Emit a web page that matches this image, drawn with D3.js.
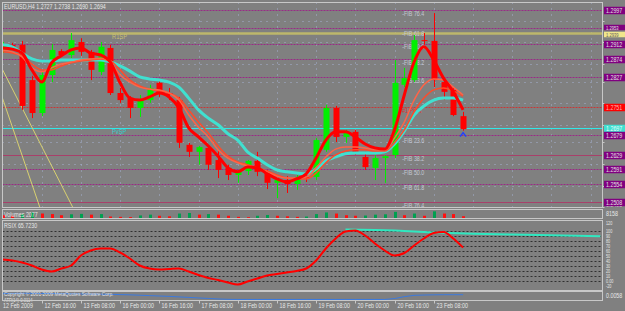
<!DOCTYPE html>
<html>
<head>
<meta charset="utf-8">
<script src="https://cdn.jsdelivr.net/npm/d3@7"></script>
<style>
body { margin: 0; background: #808080; }
svg { display: block; font-family: "Liberation Sans", Arial, sans-serif; }
</style>
</head>
<body>
<svg id="chart" width="625" height="311"></svg>
<script>
// EURUSD H4, 48 bars (12 Feb 2009 00:00 .. 23 Feb 2009 20:00)
var open  = [1.2896,1.2909,1.2909,1.2819,1.2735,1.2832,1.2893,1.2883,1.2916,1.2891,1.2840,1.2901,1.2786,1.2773,1.2748,1.2768,
             1.2812,1.2786,1.2768,1.2654,1.2636,1.2646,1.2615,1.2595,1.2577,1.2587,1.2613,1.2585,1.2557,1.2564,1.2554,1.2572,
             1.2572,1.2641,1.2748,1.2674,1.2687,1.2623,1.2595,1.2620,1.2628,1.2807,1.2819,1.2921,1.2919,1.2814,1.2794,1.2727];
var high  = [1.2916,1.2914,1.2919,1.2830,1.2840,1.2911,1.2898,1.2939,1.2926,1.2896,1.2916,1.2909,1.2799,1.2778,1.2781,1.2807,
             1.2819,1.2799,1.2776,1.2659,1.2651,1.2651,1.2641,1.2603,1.2590,1.2615,1.2636,1.2590,1.2569,1.2574,1.2577,1.2585,
             1.2671,1.2756,1.2753,1.2692,1.2692,1.2636,1.2628,1.2628,1.2870,1.2850,1.2934,1.2939,1.2990,1.2824,1.2799,1.2738];
var low   = [1.2888,1.2898,1.2743,1.2722,1.2727,1.2814,1.2878,1.2875,1.2881,1.2819,1.2832,1.2781,1.2761,1.2722,1.2725,1.2761,
             1.2776,1.2768,1.2646,1.2623,1.2603,1.2590,1.2569,1.2564,1.2557,1.2577,1.2574,1.2541,1.2518,1.2531,1.2539,1.2559,
             1.2564,1.2636,1.2661,1.2659,1.2628,1.2590,1.2564,1.2557,1.2620,1.2801,1.2814,1.2909,1.2801,1.2768,1.2727,1.2690];
var close = [1.2911,1.2904,1.2753,1.2735,1.2832,1.2896,1.2883,1.2921,1.2891,1.2845,1.2904,1.2786,1.2768,1.2748,1.2768,1.2799,
             1.2786,1.2781,1.2659,1.2636,1.2648,1.2603,1.2590,1.2577,1.2585,1.2613,1.2585,1.2557,1.2564,1.2554,1.2572,1.2569,
             1.2666,1.2748,1.2674,1.2684,1.2636,1.2597,1.2620,1.2625,1.2812,1.2824,1.2921,1.2919,1.2819,1.2789,1.2730,1.2694];

// moving averages
var maFast = [1.2901,1.2898,1.2888,1.2845,1.2814,1.2863,1.2881,1.2896,1.2901,1.2888,1.2883,1.2865,1.2812,1.2773,1.2768,1.2776,
              1.2786,1.2776,1.2748,1.2697,1.2674,1.2651,1.2625,1.2595,1.2585,1.2597,1.2595,1.2580,1.2567,1.2559,1.2567,1.2580,
              1.2620,1.2666,1.2687,1.2687,1.2674,1.2656,1.2646,1.2643,1.2692,1.2781,1.2865,1.2904,1.2870,1.2824,1.2789,1.2743];
var maMid1 = [1.2896,1.2891,1.2878,1.2850,1.2840,1.2850,1.2860,1.2865,1.2870,1.2873,1.2875,1.2865,1.2832,1.2814,1.2801,1.2796,
              1.2794,1.2786,1.2768,1.2730,1.2699,1.2674,1.2641,1.2620,1.2608,1.2600,1.2595,1.2585,1.2574,1.2569,1.2569,1.2572,
              1.2595,1.2623,1.2643,1.2648,1.2648,1.2646,1.2641,1.2641,1.2671,1.2712,1.2768,1.2807,1.2822,1.2819,1.2801,1.2781];
var maMid2 = [1.2891,1.2888,1.2881,1.2860,1.2845,1.2845,1.2855,1.2863,1.2868,1.2870,1.2873,1.2868,1.2845,1.2819,1.2804,1.2796,
              1.2791,1.2786,1.2773,1.2743,1.2712,1.2684,1.2651,1.2625,1.2610,1.2603,1.2595,1.2587,1.2577,1.2569,1.2567,1.2567,
              1.2582,1.2608,1.2628,1.2638,1.2641,1.2641,1.2638,1.2638,1.2659,1.2692,1.2738,1.2773,1.2794,1.2799,1.2791,1.2778];
var maSlow = [1.2909,1.2904,1.2888,1.2873,1.2868,1.2868,1.2870,1.2870,1.2870,1.2870,1.2870,1.2865,1.2855,1.2842,1.2827,1.2822,
              1.2819,1.2814,1.2801,1.2773,1.2743,1.2722,1.2705,1.2682,1.2666,1.2636,1.2620,1.2603,1.2590,1.2585,1.2582,1.2580,
              1.2592,1.2613,1.2623,1.2631,1.2633,1.2633,1.2633,1.2636,1.2656,1.2689,1.2730,1.2753,1.2768,1.2773,1.2773,1.2768];

// horizontal levels drawn on the chart
var levelPrices = [1.2997,1.2953,1.2939,1.2912,1.2874,1.2827,1.2751,1.2697,1.2679,1.2629,1.2591,1.2554,1.2508];
var levelKinds  = ["lvl","lvl","r1","lvl","lvl","lvl","pivot","pp","lvl","lvl2","lvl","lvl","lvl2"];
var fibPrices = [1.2988,1.2939,1.2904,1.2865,1.2817, 1.2666,1.2618,1.2582,1.2544,1.2498];
var fibNames  = ["FIB 76.4","FIB 61.8","FIB 50.0","FIB 38.2","FIB 23.6","FIB 23.6","FIB 38.2","FIB 50.0","FIB 61.8","FIB 76.4"];
// trend lines: [bar1, price1, bar2, price2]
var trendLines = [[-0.25,1.2858,7.2,1.2493],[-0.25,1.2791,3.83,1.2493]];

var priceTicks = [1.2970,1.2915,1.2860,1.2815,1.2760,1.2705,1.2660,1.2605,1.2550,1.2495];
var timeTickBars = [0,4,8,12,16,20,24,28,32,36,40,44];
var timeLabels = ["12 Feb 2009","12 Feb 16:00","13 Feb 08:00","16 Feb 00:00","16 Feb 16:00","17 Feb 08:00",
                  "18 Feb 00:00","18 Feb 16:00","19 Feb 08:00","20 Feb 00:00","20 Feb 16:00","23 Feb 08:00"];

var volumes = [3000,2500,4000,5500,4500,4000,3000,3800,4200,3500,4000,1800,1500,1300,2800,3500,2500,2000,4500,5000,
               3500,4000,3500,2500,1500,1200,2500,3200,2500,2000,1500,1800,4000,5500,4500,3000,2500,2700,3500,3800,
               6000,3000,4500,2500,6500,4500,4000,2077];

var rsix = [42,40,36,30,22,18,24,30,50,60,64,64,56,44,30,24,22,23,24,18,11,5,1,-4,-8,-2,4,10,13,16,19,24,
            40,64,84,98,100,90,74,60,50,55,70,84,95,97,84,65.723];
var rsixSignalBars = [35,38,40,44,48,52,56,61];
var rsixSignal = [102,101,100,96,93.5,92,90.5,88.5];
var rsixLevels = [120,100,90,80,70,60,50,40,30,20,10,0,-20];

var atr = [0.0110,0.0110,0.0112,0.0112,0.0110,0.0108,0.0106,0.0104,0.0102,0.0100,0.0098,0.0096,0.0092,0.0088,0.0082,0.0076,
           0.0070,0.0064,0.0056,0.0048,0.0040,0.0032,0.0024,0.0018,0.0016,0.0016,0.0016,0.0016,0.0016,0.0016,0.0016,0.0016,
           0.0016,0.0016,0.0016,0.0016,0.0016,0.0016,0.0016,0.0016,0.0030,0.0060,0.0080,0.0085,0.0088,0.0090,0.0090,0.0090];

var svg = d3.select("#chart");
var W = 625, H = 311;
var left = 2.5, right = 602.5;
var mainTop = 2.5, mainBot = 207.5;
var volTop = 209.5, volBot = 218.5;
var rsTop = 220.5, rsBot = 290.5;
var atrTop = 291.5, atrBot = 300.5;
var txt = "#e6e6e6";
var fs = 6.5;

// small terminal-style text, squeezed horizontally
function label(parent, tx, ty, s, size, color) {
  return parent.append("text")
    .attr("transform", "translate(" + tx + "," + ty + ") scale(0.82,1)")
    .attr("font-size", size).attr("fill", color).text(s);
}

var x = d3.scaleLinear().domain([0, 61]).range([2.5, 2.5 + 61 * 9.8]);
var y = d3.scaleLinear().domain([1.2495, 1.2970]).range([207.1, 20.9]);
var yv = d3.scaleLinear().domain([0, 8158]).range([volBot, volTop]);
var yr = d3.scaleLinear().domain([-20, 120]).range([rsBot, rsTop]);
var ya = d3.scaleLinear().domain([0, 0.0140]).range([atrBot, atrTop]);

svg.append("rect").attr("width", W).attr("height", H).attr("fill", "#808080");

var defs = svg.append("defs");
defs.append("clipPath").attr("id", "clipMain").append("rect")
  .attr("x", left).attr("y", mainTop).attr("width", right - left).attr("height", mainBot - mainTop);

// grid
var grid = svg.append("g");
grid.selectAll(".hg").data(priceTicks).enter().append("line")
  .attr("x1", left).attr("x2", right)
  .attr("y1", function(d) { return Math.round(y(d)) + 0.5; })
  .attr("y2", function(d) { return Math.round(y(d)) + 0.5; })
  .attr("stroke", "#a4b0d0").attr("stroke-dasharray", "1,5");
grid.selectAll(".vg").data(d3.range(4, 61, 4)).enter().append("line")
  .attr("x1", function(d) { return Math.round(x(d)) + 0.5; })
  .attr("x2", function(d) { return Math.round(x(d)) + 0.5; })
  .attr("y1", mainTop).attr("y2", mainBot)
  .attr("stroke", "#a4b0d0").attr("stroke-dasharray", "1,5");

var main = svg.append("g").attr("clip-path", "url(#clipMain)");

// levels
var levelStyle = {
  lvl:   { c: "#9a2a86", w: 1, dash: "2,1" },
  lvl2:  { c: "#a8406a", w: 1, dash: null },
  r1:    { c: "#bdb76b", w: 2.5, dash: null },
  pivot: { c: "#c83838", w: 1, dash: "2,1" },
  pp:    { c: "#30e8e8", w: 1, dash: null }
};
main.selectAll(".lv").data(levelPrices).enter().append("line")
  .attr("x1", left).attr("x2", right)
  .attr("y1", function(d) { return Math.round(y(d)) + 0.5; })
  .attr("y2", function(d) { return Math.round(y(d)) + 0.5; })
  .attr("stroke", function(d, i) { return levelStyle[levelKinds[i]].c; })
  .attr("stroke-width", function(d, i) { return levelStyle[levelKinds[i]].w; })
  .attr("stroke-dasharray", function(d, i) { return levelStyle[levelKinds[i]].dash; });

label(main, 112, y(levelPrices[2]) + 6, "R1SP", 7, "#c8c070");
label(main, 112, y(levelPrices[7]) + 6, "PvSP", 7, "#30d0d0");
label(main, x(40.8), y(levelPrices[6]) + 6, "#1 Pivot", fs, "#e03030");

// trend lines
main.selectAll(".tl").data(trendLines).enter().append("line")
  .attr("x1", function(d) { return x(d[0]); }).attr("y1", function(d) { return y(d[1]); })
  .attr("x2", function(d) { return x(d[2]); }).attr("y2", function(d) { return y(d[3]); })
  .attr("stroke", "#d8d070").attr("stroke-width", 1);

// fib labels
fibPrices.forEach(function(d, i) {
  label(main, x(40.8), y(d) + 2.5, "-" + fibNames[i], fs, "#c4c8d4");
});

// candles
var bull = "#00f000", bear = "#ff0000";
var bars = d3.range(open.length);
main.selectAll(".wick").data(bars).enter().append("line")
  .attr("x1", function(i) { return Math.round(x(i)) + 0.5; })
  .attr("x2", function(i) { return Math.round(x(i)) + 0.5; })
  .attr("y1", function(i) { return y(high[i]); })
  .attr("y2", function(i) { return y(low[i]); })
  .attr("stroke", function(i) { return close[i] >= open[i] ? bull : bear; });
main.selectAll(".body").data(bars).enter().append("rect")
  .attr("x", function(i) { return Math.round(x(i)) - 2.5; })
  .attr("width", 6)
  .attr("y", function(i) { return y(Math.max(open[i], close[i])); })
  .attr("height", function(i) { return Math.max(1, Math.abs(y(open[i]) - y(close[i]))); })
  .attr("fill", function(i) { return close[i] >= open[i] ? bull : bear; });

// moving averages
function maLine(arr) {
  return d3.line().x(function(d, i) { return x(i); }).y(function(d) { return y(d); })
    .curve(d3.curveMonotoneX)(arr);
}
main.append("path").attr("d", maLine(maSlow)).attr("fill", "none")
  .attr("stroke", "#40e0d0").attr("stroke-width", 3);
main.append("path").attr("d", maLine(maMid2)).attr("fill", "none")
  .attr("stroke", "#ff4a2a").attr("stroke-width", 1.5);
main.append("path").attr("d", maLine(maMid1)).attr("fill", "none")
  .attr("stroke", "#ff6347").attr("stroke-width", 1.5);
main.append("path").attr("d", maLine(maFast)).attr("fill", "none")
  .attr("stroke", "#ff0000").attr("stroke-width", 3);

// arrow under last bar
var last = open.length - 1;
main.append("path")
  .attr("d", "M" + (x(last) - 3) + "," + (y(low[last]) + 6) + "L" + x(last) + "," + (y(low[last]) + 2) + "L" + (x(last) + 3) + "," + (y(low[last]) + 6))
  .attr("fill", "none").attr("stroke", "#2040ff").attr("stroke-width", 1.5);

label(main, 4, 9, "EURUSD,H4  1.2727 1.2738 1.2690 1.2694", fs, txt);

// volume panel
svg.selectAll(".vol").data(volumes).enter().append("rect")
  .attr("x", function(d, i) { return Math.round(x(i)) - 1; })
  .attr("width", 3)
  .attr("y", function(d) { return yv(d); })
  .attr("height", function(d) { return volBot - yv(d); })
  .attr("fill", function(d, i) { return i > 0 && d > volumes[i - 1] ? "#00a050" : "#ff1010"; });
label(svg, 4, 217, "Volumes " + volumes[last], fs, txt);

// RSIX panel
svg.selectAll(".rl").data(d3.range(0, 101, 10)).enter().append("line")
  .attr("x1", left).attr("x2", right)
  .attr("y1", function(d) { return Math.round(yr(d)) + 0.5; })
  .attr("y2", function(d) { return Math.round(yr(d)) + 0.5; })
  .attr("stroke", "#303030").attr("stroke-dasharray", "2,2");
svg.append("path")
  .attr("d", d3.line().x(function(d, i) { return x(rsixSignalBars[i]); }).y(function(d) { return yr(d); })(rsixSignal))
  .attr("fill", "none").attr("stroke", "#30e8c0").attr("stroke-width", 2);
svg.append("path")
  .attr("d", d3.line().x(function(d, i) { return x(i); }).y(function(d) { return yr(d); }).curve(d3.curveMonotoneX)(rsix))
  .attr("fill", "none").attr("stroke", "#ff0000").attr("stroke-width", 2);
label(svg, 4, 228, "RSIX " + rsix[last].toFixed(4), fs, txt);

// bottom panel
svg.append("path")
  .attr("d", d3.line().x(function(d, i) { return x(i); }).y(function(d) { return ya(d); })(atr))
  .attr("fill", "none").attr("stroke", "#3a7ae0").attr("stroke-width", 1);
label(svg, 4, 296, "Copyright © 2001-2009 MetaQuotes Software Corp.", 5.8, txt);
label(svg, 4, 301.5, "ATR(14) 0.0114", 5, txt);

// panel frames
var frame = "#c8c8c8";
[[mainTop, mainBot], [volTop, volBot], [rsTop, rsBot], [atrTop, atrBot]].forEach(function(p) {
  svg.append("rect").attr("x", left).attr("y", p[0]).attr("width", right - left).attr("height", p[1] - p[0])
    .attr("fill", "none").attr("stroke", frame);
});

// price axis
var boxY = levelPrices.map(function(d) { return Math.round(y(d)) + 0.5; });
boxY[1] -= 1; boxY[2] += 1;
var axisG = svg.append("g");
priceTicks.forEach(function(d) {
  var yy = Math.round(y(d)) + 0.5;
  axisG.append("line").attr("x1", right).attr("x2", right + 2).attr("y1", yy).attr("y2", yy).attr("stroke", frame);
  var hidden = boxY.some(function(b) { return Math.abs(b - yy) < 8; });
  if (!hidden || yy > 205) label(axisG, 606, Math.min(yy, 204) + 2.5, d.toFixed(4), fs, txt);
});
var boxFill = { lvl: "#800080", lvl2: "#800080", r1: "#f0e68c", pivot: "#ff0000", pp: "#40e0d0" };
var boxText = { lvl: "#e0e0e0", lvl2: "#e0e0e0", r1: "#606060", pivot: "#ffb0b0", pp: "#e8ffff" };
levelPrices.forEach(function(d, i) {
  var yy = boxY[i];
  var tall = (i === 1 || i === 2) ? 5.5 : 7.5;
  axisG.append("rect").attr("x", 604).attr("y", yy - tall / 2).attr("width", 22).attr("height", tall)
    .attr("fill", boxFill[levelKinds[i]]);
  label(axisG, 606, yy + (i === 1 || i === 2 ? 2 : 2.5), d.toFixed(4), (i === 1 || i === 2) ? 5 : fs, boxText[levelKinds[i]]);
});
label(svg, 606, 216, "8158", fs, txt);
rsixLevels.forEach(function(d) {
  label(svg, 606, Math.min(Math.max(yr(d), 223), 286) + 2, d === 0 ? "0.00" : d, 4.6, txt);
});
label(svg, 606, 298, "0.0058", fs, txt);

// time axis
timeTickBars.forEach(function(b, k) {
  var xx = Math.round(x(b)) + 0.5;
  if (k > 0) svg.append("line").attr("x1", xx).attr("x2", xx).attr("y1", atrBot).attr("y2", atrBot + 3).attr("stroke", frame);
  label(svg, k === 0 ? 3 : xx + 2, 308, timeLabels[k], fs, txt);
});
</script>
</body>
</html>
